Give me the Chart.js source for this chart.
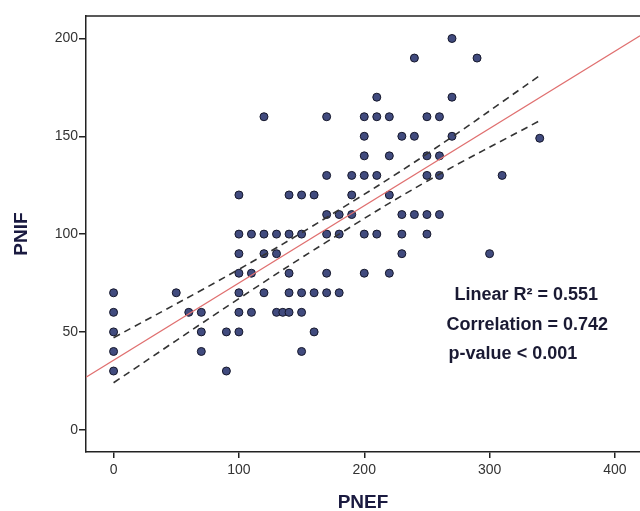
<!DOCTYPE html>
<html>
<head>
<meta charset="utf-8">
<script src="https://cdn.jsdelivr.net/npm/chart.js"></script>
<style>
  html, body { margin: 0; padding: 0; background: #fff; }
  #wrap { width: 640px; height: 511px; }
</style>
</head>
<body>
<div id="wrap"><canvas id="myChart" width="640" height="511"></canvas></div>
<script>
// PNEF (x) / PNIF (y) readings
const pnef = [
  270,
  240, 290,
  210, 270,
  120, 170, 200, 210, 220, 250, 260,
  200, 230, 240, 270, 340,
  200, 220, 250, 260,
  170, 190, 200, 210, 250, 260, 310,
  100, 140, 150, 160, 190, 220,
  170, 180, 190, 230, 240, 250, 260,
  100, 110, 120, 130, 140, 150, 170, 180, 200, 210, 230, 250,
  100, 120, 130, 230, 300,
  100, 110, 140, 170, 200, 220,
  0, 50, 100, 120, 140, 150, 160, 170, 180,
  0, 60, 70, 100, 110, 130, 135, 140, 150,
  0, 70, 90, 100, 160,
  0, 70, 150,
  0, 90
];
const pnif = [
  200,
  190, 190,
  170, 170,
  160, 160, 160, 160, 160, 160, 160,
  150, 150, 150, 150, 149,
  140, 140, 140, 140,
  130, 130, 130, 130, 130, 130, 130,
  120, 120, 120, 120, 120, 120,
  110, 110, 110, 110, 110, 110, 110,
  100, 100, 100, 100, 100, 100, 100, 100, 100, 100, 100, 100,
  90, 90, 90, 90, 90,
  80, 80, 80, 80, 80, 80,
  70, 70, 70, 70, 70, 70, 70, 70, 70,
  60, 60, 60, 60, 60, 60, 60, 60, 60,
  50, 50, 50, 50, 50,
  40, 40, 40,
  30, 30
];

// fit line and 95% CI of mean
const fitX = [-22, 420];
const fitY = [26.8, 201.4];
const ciX = [0, 100, 170, 250, 340];
const ciUpper = [47, 82, 108.5, 141, 181];
const ciLower = [24, 67, 96, 127, 158];

const xTicks = [0, 100, 200, 300, 400];
const yTicks = [0, 50, 100, 150, 200];

const statLabels = ['Linear R\u00b2 = 0.551', 'Correlation = 0.742', 'p-value < 0.001'];
const statX = [272, 265.6, 267.3];
const statY = [68.6, 53.6, 38.8];

const toXY = (xs, ys) => xs.map((x, i) => ({ x: x, y: ys[i] }));

const frameAndText = {
  id: 'frameAndText',
  afterDatasetsDraw(chart) {
    const ctx = chart.ctx;
    const a = chart.chartArea;
    ctx.save();
    // top border of the box
    ctx.strokeStyle = '#222';
    ctx.lineWidth = 1.5;
    ctx.beginPath();
    ctx.moveTo(a.left, a.top);
    ctx.lineTo(a.right, a.top);
    ctx.stroke();
    // stats text
    ctx.font = 'bold 18px Arial, "Liberation Sans", sans-serif';
    ctx.fillStyle = '#1a1a33';
    ctx.textBaseline = 'middle';
    ctx.textAlign = 'left';
    statLabels.forEach((t, i) => {
      ctx.fillText(t, chart.scales.x.getPixelForValue(statX[i]), chart.scales.y.getPixelForValue(statY[i]));
    });
    ctx.restore();
  }
};

const config = {
  type: 'scatter',
  data: {
    datasets: [
      {
        label: 'Upper CI',
        data: toXY(ciX, ciUpper),
        showLine: true,
        borderColor: '#333',
        borderWidth: 1.6,
        borderDash: [7, 5],
        pointRadius: 0,
        tension: 0.4,
        order: 1
      },
      {
        label: 'Lower CI',
        data: toXY(ciX, ciLower),
        showLine: true,
        borderColor: '#333',
        borderWidth: 1.6,
        borderDash: [7, 5],
        pointRadius: 0,
        tension: 0.4,
        order: 1
      },
      {
        label: 'Fit',
        data: toXY(fitX, fitY),
        showLine: true,
        borderColor: '#e07070',
        borderWidth: 1.2,
        pointRadius: 0,
        order: 2
      },
      {
        label: 'Subjects',
        data: toXY(pnef, pnif),
        backgroundColor: '#414b7e',
        borderColor: '#15172b',
        borderWidth: 1,
        pointRadius: 4,
        order: 3
      }
    ]
  },
  options: {
    responsive: false,
    animation: false,
    layout: { autoPadding: false, padding: { top: 16, right: 0, left: 0, bottom: 0 } },
    plugins: {
      legend: { display: false },
      tooltip: { enabled: false }
    },
    scales: {
      x: {
        type: 'linear',
        min: -22,
        max: 420,
        afterFit: (s) => { s.height = 59; },
        afterBuildTicks: (s) => { s.ticks = xTicks.map(v => ({ value: v })); },
        grid: { drawOnChartArea: false, color: '#222', lineWidth: 1.5, tickLength: 6 },
        border: { display: true, color: '#222', width: 1.5 },
        ticks: { color: '#333', font: { family: 'Arial', size: 14 }, padding: 4, maxRotation: 0 },
        title: {
          display: true,
          text: 'PNEF',
          color: '#1a1a40',
          font: { family: 'Arial', size: 19, weight: 'bold', lineHeight: 0.8 },
          padding: { top: 0, bottom: 1 }
        }
      },
      y: {
        type: 'linear',
        min: -11.4,
        max: 211.5,
        afterFit: (s) => { s.width = 86; },
        afterBuildTicks: (s) => { s.ticks = yTicks.map(v => ({ value: v })); },
        grid: { drawOnChartArea: false, color: '#222', lineWidth: 1.5, tickLength: 7 },
        border: { display: true, color: '#222', width: 1.5 },
        ticks: { color: '#333', font: { family: 'Arial', size: 14 }, padding: 1 },
        title: {
          display: true,
          text: 'PNIF',
          color: '#1a1a40',
          font: { family: 'Arial', size: 19, weight: 'bold', lineHeight: 0.8 },
          padding: { top: 14, bottom: 0 }
        }
      }
    }
  },
  plugins: [frameAndText]
};

var myChart = new Chart(document.getElementById('myChart'), config);
</script>
</body>
</html>
